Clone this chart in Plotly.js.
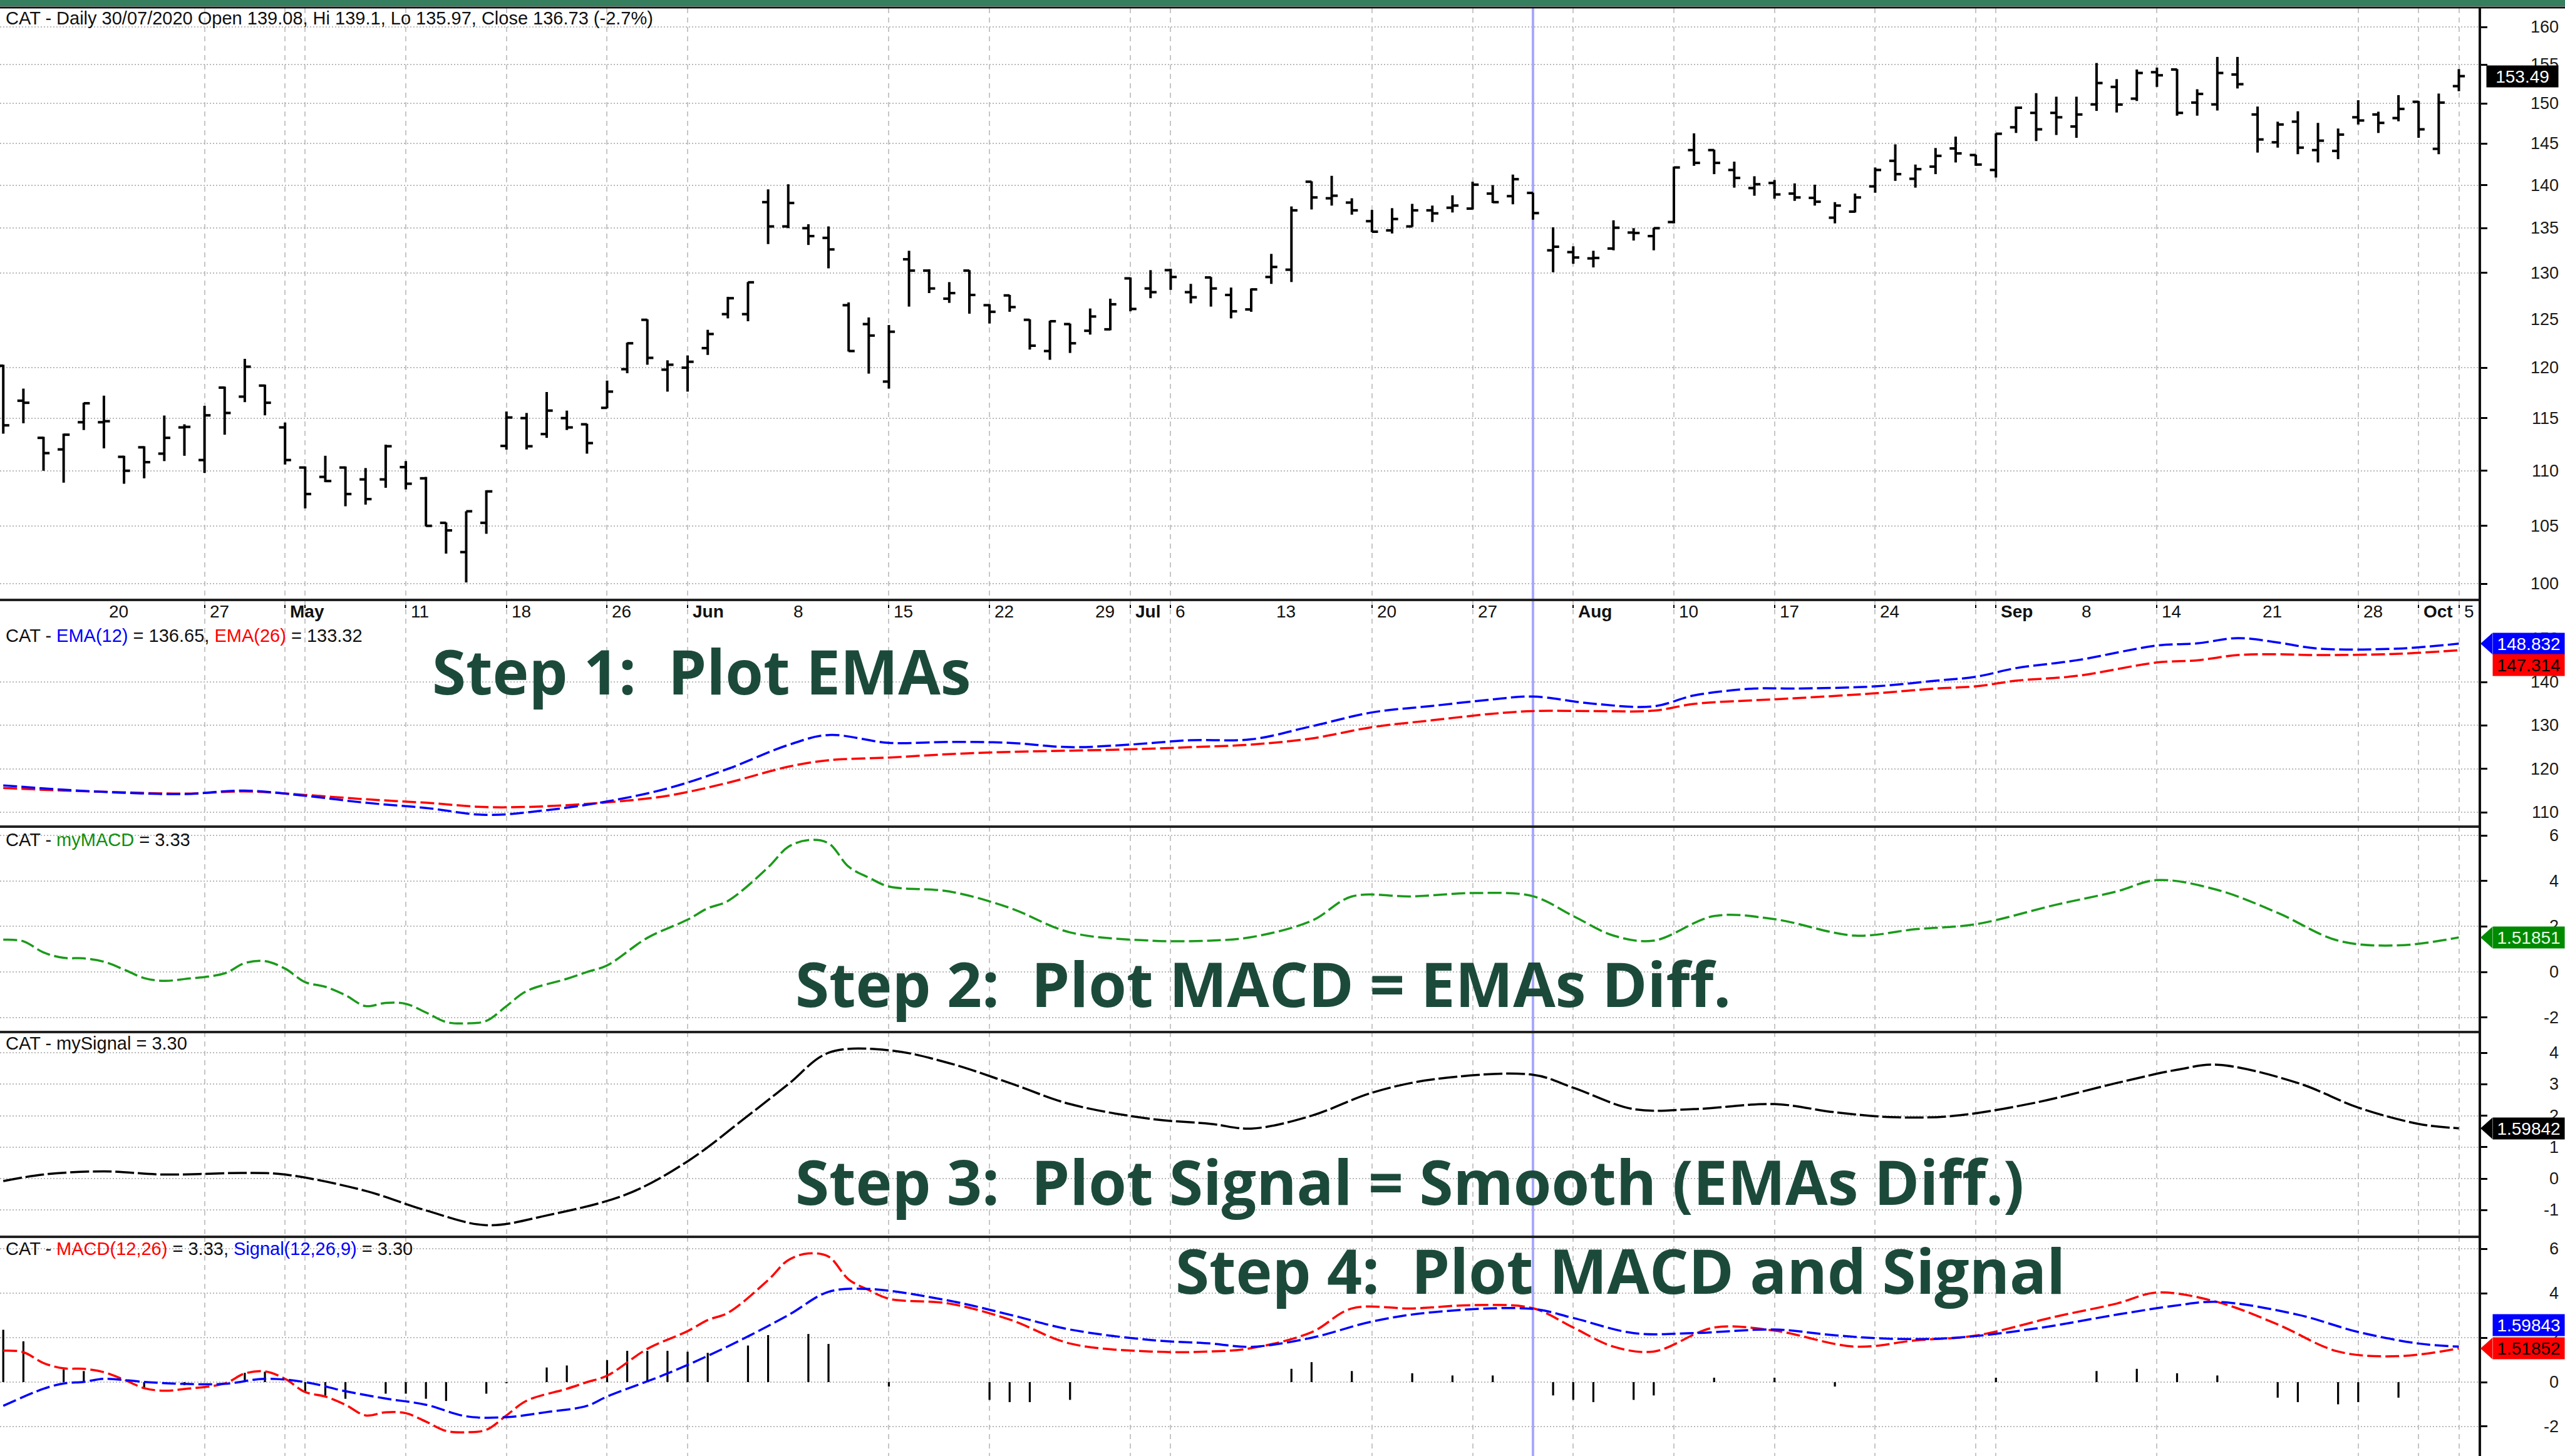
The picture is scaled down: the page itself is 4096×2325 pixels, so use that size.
<!DOCTYPE html>
<html><head><meta charset="utf-8">
<script src="https://cdn.plot.ly/plotly-3.0.1.min.js"></script>
<style>html,body{margin:0;padding:0;background:#fff;}#chart{width:4096px;height:2325px;}</style>
</head><body><div id="chart"></div>
<script>
// ---------------- DATA ----------------
const openP  = [120.2,116.7,113.1,112.0,114.6,114.6,111.3,112.2,111.6,114.1,111.0,118.0,117.1,118.2,114.1,110.3,109.43,110.3,109.2,109.2,110.34,109.3,105.27,102.7,105.27,112.33,115.0,113.46,115.0,114.4,116.0,119.85,124.95,119.8,120.0,122.0,125.55,125.55,138.0,135.2,135.0,133.9,126.5,124.5,118.6,131.5,130.25,127.2,130.25,126.5,127.55,124.95,121.7,124.5,123.8,123.95,129.4,128.3,130.3,127.9,129.5,127.6,126.05,129.55,130.35,140.4,138.45,137.95,135.8,134.75,135.2,137.05,137.35,137.25,139.0,138.7,139.08,132.5,132.3,131.6,132.7,134.5,134.1,135.7,144.2,144.2,141.8,139.65,140.25,139.0,138.5,136.2,136.9,139.85,142.9,140.75,142.2,144.4,143.6,141.8,147.0,148.8,148.8,147.1,149.87,152.1,150.6,154.0,154.35,150.1,149.87,153.7,148.6,145.15,147.7,144.2,144.1,148.25,148.6,148.15,150.2,144.35,152.2];
const highP  = [120.3,117.9,113.2,113.5,116.5,117.2,111.4,112.3,115.25,114.4,116.2,118.1,120.9,118.3,114.57,110.4,111.4,110.4,110.25,112.45,110.9,109.43,105.3,106.3,108.2,115.64,115.5,117.56,115.73,114.45,118.7,122.56,125.0,120.75,121.25,123.9,127.4,129.0,139.5,140.1,135.45,135.2,126.8,125.2,124.4,132.45,130.4,128.99,130.3,126.6,127.6,125.0,124.85,124.55,126.15,127.2,129.5,130.3,130.45,128.8,129.55,128.4,128.3,132.1,137.5,140.45,141.1,138.45,137.1,137.3,137.8,137.6,138.8,140.4,140.0,141.25,139.1,135.1,132.95,132.45,135.9,135.0,135.05,142.2,146.25,144.25,142.8,141.05,140.6,140.2,140.05,138.0,139.0,142.1,144.9,142.45,144.45,145.85,143.65,146.25,149.6,151.3,150.85,150.85,155.2,153.1,154.35,154.6,154.4,151.8,156.0,156.0,149.6,147.7,149.0,147.55,146.85,150.4,148.95,151.05,150.3,151.25,154.4];
const lowP   = [113.5,114.5,110.0,108.9,113.85,112.1,108.8,109.3,110.9,111.4,109.8,113.4,116.56,115.27,110.58,106.56,108.95,106.75,106.9,108.43,108.28,104.95,102.57,100.1,104.3,111.98,112.0,113.1,113.85,111.6,115.95,119.44,120.3,117.6,117.6,121.3,125.1,124.8,133.2,135.0,133.1,130.5,121.65,119.4,117.9,126.35,127.8,126.75,125.6,124.56,125.8,121.85,120.8,121.5,123.4,123.85,125.85,127.25,128.15,126.7,126.35,125.1,125.8,128.8,129.0,137.15,137.6,136.55,134.55,134.4,135.15,135.7,136.8,137.15,137.9,137.75,135.97,130.07,131.0,130.6,132.5,133.6,132.5,135.55,142.3,141.3,139.7,138.75,138.4,138.15,137.6,135.55,136.8,139.1,140.5,139.7,141.3,142.7,142.3,140.9,146.3,145.3,146.05,145.7,149.05,148.85,150.3,152.1,148.45,148.45,149.1,151.9,143.9,144.5,143.7,142.7,143.1,147.35,146.3,147.75,145.7,143.7,151.55];
const closeP = [114.3,116.5,111.65,113.4,116.45,114.7,110.0,110.8,113.1,114.15,115.27,115.5,120.1,116.5,111.0,107.86,109.05,107.86,107.4,112.3,108.8,105.0,104.6,106.3,108.1,115.06,112.3,115.73,114.1,112.6,117.6,122.5,121.0,120.3,120.6,123.46,127.25,128.97,135.2,137.9,134.1,132.6,121.7,123.3,123.7,130.25,128.3,127.8,127.6,125.8,126.3,122.25,124.8,122.5,125.3,126.6,126.1,127.9,129.55,127.35,128.3,125.85,128.2,130.65,137.05,138.55,138.75,137.05,134.6,136.05,137.05,136.7,137.6,140.05,138.0,140.7,136.73,132.9,131.7,131.65,135.05,134.45,135.0,142.1,142.65,142.65,140.85,140.1,138.9,138.55,138.05,137.6,138.55,141.8,141.3,141.9,143.5,143.8,142.45,146.2,149.45,146.75,148.25,148.6,152.6,149.85,153.9,153.6,148.8,151.2,153.9,152.45,145.5,147.35,144.5,145.35,146.1,147.85,147.55,149.3,146.75,150.1,153.49];

// date axis labels (bar index of the labelled day)
const dateTickIdx  = [5,10,14,20,25,30,34,39,44,49,54,56,58,63,68,73,78,83,88,93,99,103,107,112,117,120,122];
const dateTickText = ['20','27','May','11','18','26','Jun','8','15','22','29','Jul','6','13','20','27','Aug','10','17','24','Sep','8','14','21','28','Oct','5'];
const dateGridIdx  = [10,14,15,20,25,30,34,44,49,56,58,68,73,78,83,88,93,98,99,107,117,120,122];
const cursorIdx = 76; // 30/07/2020

// price scale labels
const priceTickLabels = [160,155,150,145,140,135,130,125,120,115,110,105,100];
const priceGridVals   = [160,155,150,145,140,135,130,120,115,110,105,100];

// EMA pane
const emaIdx = [0,3,6,9,12,15,18,21,24,27,30,33,36,39,41,44,47,50,53,56,59,62,65,68,71,74,76,79,82,84,87,89,93,96,98,100,103,107,109,111,113,115,119,122];
const ema12  = [116.2,115.2,114.5,114.2,115.0,113.8,112.2,111.0,109.4,110.5,112.5,115.5,120.0,125.5,127.8,126.0,126.2,126.0,125.0,125.6,126.6,126.8,129.8,133.0,134.5,136.0,136.65,135.0,134.4,136.9,138.5,138.5,139.0,140.3,141.2,143.2,145.0,148.4,148.9,150.1,149.1,147.7,147.7,148.83];
const ema26  = [115.6,115.0,114.6,114.3,114.8,114.0,113.0,112.2,111.2,111.4,112.3,113.8,116.8,120.5,122.0,122.6,123.4,123.9,124.2,124.5,125.0,125.6,127.0,129.6,131.2,132.7,133.32,133.3,133.4,134.95,135.8,136.25,137.4,138.5,139.0,140.3,141.4,144.5,145.0,146.2,146.4,146.2,146.5,147.31];
const emaTickLabels = [150,140,130,120,110];
const emaGridVals   = [140,130,120,110];

// MACD
const macdIdx = [0,1,2,3,4,5,6,7,8,9,11,12,13,14,15,16,17,18,19,20,21,22,23,24,25,26,28,29,30,32,34,35,36,38,39,40,41,42,43,44,47,50,53,57,60,62,65,67,70,73,76,78,80,82,85,88,92,95,98,102,105,107,110,113,116,119,122];
const macdV   = [1.42,1.35,0.86,0.62,0.6,0.45,0.11,-0.27,-0.39,-0.31,-0.06,0.39,0.48,0.15,-0.45,-0.65,-1.02,-1.5,-1.36,-1.4,-1.78,-2.2,-2.26,-2.15,-1.5,-0.84,-0.3,0.0,0.29,1.5,2.3,2.8,3.12,4.6,5.5,5.8,5.66,4.63,4.15,3.76,3.54,2.82,1.74,1.38,1.38,1.53,2.25,3.32,3.32,3.47,3.33,2.46,1.6,1.38,2.46,2.32,1.6,1.88,2.1,2.96,3.54,4.04,3.61,2.6,1.38,1.17,1.52];
const macdTickLabels = [6,4,2,0,-2];

// Signal (own pane)
const sigIdx = [0,2,5,8,12,14,18,21,24,27,31,34,37,39,41,44,47,50,53,57,60,62,65,68,71,76,78,81,84,88,91,94,97,101,105,108,110,114,117,120,122];
const sigV   = [-0.08,0.13,0.23,0.13,0.18,0.13,-0.39,-1.01,-1.48,-1.17,-0.49,0.55,2.0,3.0,4.0,4.08,3.67,3.04,2.37,1.9,1.74,1.59,2.0,2.73,3.15,3.30,2.89,2.21,2.21,2.37,2.11,1.95,2.0,2.42,3.04,3.46,3.62,3.04,2.26,1.74,1.60];
const sigTickLabels = [4,3,2,1,0,-1];

// Signal (bottom pane) and histogram
const sigBotIdx = [0,2,3,4,5,7,9,11,13,15,17,19,21,23,25,27,29,30,33,36,39,41,43,47,50,53,57,60,62,65,68,71,76,78,81,84,88,91,94,97,101,105,108,110,114,117,120,122];
const sigBotV   = [-1.07,-0.3,-0.06,0.01,0.15,0.01,-0.08,-0.08,0.15,0.0,-0.41,-0.74,-1.02,-1.54,-1.58,-1.35,-1.07,-0.65,0.39,1.61,3.02,4.07,4.2,3.67,3.04,2.37,1.9,1.74,1.59,2.0,2.73,3.15,3.30,2.89,2.21,2.21,2.37,2.11,1.95,2.0,2.42,3.04,3.46,3.62,3.04,2.26,1.74,1.60];
const histIdx = [0,1,3,4,7,9,12,13,15,16,17,19,20,21,22,24,25,27,28,30,31,32,33,34,35,37,38,40,41,44,49,50,51,53,64,65,67,70,72,74,77,78,79,81,82,85,88,91,99,104,106,108,110,113,114,116,117,119];
const histV   = [2.36,1.84,0.57,0.5,-0.24,-0.14,0.42,0.47,-0.47,-0.61,-0.75,-0.52,-0.52,-0.75,-0.85,-0.52,-0.05,0.66,0.75,0.99,1.41,1.41,1.41,1.37,1.32,1.65,2.12,2.17,1.72,-0.2,-0.8,-0.9,-0.9,-0.8,0.6,0.9,0.5,0.4,0.3,0.3,-0.6,-0.8,-0.9,-0.8,-0.6,0.2,0.2,-0.2,0.2,0.5,0.6,0.4,0.3,-0.7,-0.9,-1.0,-0.9,-0.7];
const botTickLabels = [6,4,2,0,-2];

// last values shown in the right-hand boxes
const lastPrice = 153.49, lastEma12 = 148.832, lastEma26 = 147.314;
const lastMacd = 1.51851, lastSig = 1.59842, lastSigBot = 1.59843, lastMacdBot = 1.51852;

// ---------------- LAYOUT GEOMETRY ----------------
const W = 4096, H = 2325, PLOT_R = 3958;
const paneTop = [13, 958, 1320, 1648, 1975];
const paneBot = [958, 1320, 1648, 1975, 2325];
const dom = k => [1 - paneBot[k]/H, 1 - paneTop[k]/H];
const X_RANGE = [-0.162, 122.98];
const FONT = 'Arial, "Liberation Sans", sans-serif';
const TICK = 0.3; // half-width of open/close ticks, in bar units

function xAx(k){
  return {domain:[0, PLOT_R/W], range:X_RANGE, anchor: k===0?'y':'y'+(k+1), tickmode:'array', tickvals:dateGridIdx,
    showticklabels:false, ticks: k===0?'outside':'', ticklen:12, tickwidth:2, tickcolor:'#000',
    showgrid:true, gridcolor:'#c6c6c6', gridwidth:2, griddash:'8px,7px', zeroline:false, showline:false, fixedrange:true};
}
function yAx(k, range, type, grid){
  return {domain:dom(k), range:range, type:type, side:'right', anchor: k===0?'x':'x'+(k+1), tickmode:'array', tickvals:grid,
    showticklabels:false, ticks:'outside', ticklen:10, tickwidth:3, tickcolor:'#000',
    showgrid:true, gridcolor:'#b9b9b9', gridwidth:2, griddash:'2px,3px', zeroline:false,
    showline:true, linecolor:'#111', linewidth:4, fixedrange:true};
}

const layout = {
  width:W, height:H, margin:{l:0,r:0,t:0,b:0}, paper_bgcolor:'#fff', plot_bgcolor:'rgba(0,0,0,0)',
  showlegend:false, dragmode:false, hovermode:false,
  xaxis:xAx(0), xaxis2:xAx(1), xaxis3:xAx(2), xaxis4:xAx(3), xaxis5:xAx(4),
  yaxis: yAx(0, [1.99403, 2.21101], 'log', priceGridVals),
  yaxis2:yAx(1, [106.7, 158.9], 'linear', emaGridVals),
  yaxis3:yAx(2, [-2.64, 6.39], 'linear', macdTickLabels),
  yaxis4:yAx(3, [-1.85, 4.66], 'linear', sigTickLabels),
  yaxis5:yAx(4, [-3.33, 6.55], 'linear', botTickLabels),
  shapes:[], annotations:[]
};

// frame shapes
layout.shapes.push({type:'rect', xref:'paper', yref:'paper', x0:0, x1:1, y0:1-10/H, y1:1, fillcolor:'#367f5e', line:{width:0}});
layout.shapes.push({type:'line', xref:'paper', yref:'paper', x0:0, x1:1, y0:1-12/H, y1:1-12/H, line:{color:'#111', width:3}});
[958,1320,1648,1975].forEach(y => layout.shapes.push({type:'line', xref:'paper', yref:'paper', x0:0, x1:PLOT_R/W, y0:1-y/H, y1:1-y/H, line:{color:'#222', width:4}}));
layout.shapes.push({type:'line', xref:'x', yref:'paper', x0:cursorIdx, x1:cursorIdx, y0:0, y1:1-13/H, line:{color:'#a8a8ff', width:4}, layer:'below'});

// pane captions
const cap = (y, html) => layout.annotations.push({xref:'paper', yref:'paper', x:7/W, y:1-y/H, xanchor:'left', yanchor:'middle', showarrow:false, text:html, font:{family:FONT, size:29, color:'#111'}});
cap(29, 'CAT - Daily 30/07/2020 Open 139.08, Hi 139.1, Lo 135.97, Close 136.73 (-2.7%)');
cap(1015, 'CAT - <span style="color:#0000ff">EMA(12)</span> = 136.65, <span style="color:#ff0000">EMA(26)</span> = 133.32');
cap(1341, 'CAT - <span style="color:#109010">myMACD</span> = 3.33');
cap(1666, 'CAT - mySignal = 3.30');
cap(1994, 'CAT - <span style="color:#ff0000">MACD(12,26)</span> = 3.33, <span style="color:#0000ff">Signal(12,26,9)</span> = 3.30');

// date labels
dateTickIdx.forEach((ix, j) => {
  const t = dateTickText[j];
  const bold = /[A-Za-z]/.test(t);
  layout.annotations.push({xref:'x', yref:'paper', x:ix, y:1-977/H, xanchor:'left', yanchor:'middle', xshift:6, showarrow:false,
    text: bold ? '<b>'+t+'</b>' : t, font:{family:FONT, size:28, color:'#111'}});
});

// y tick labels (right aligned)
const yLab = (axis, vals, log) => vals.forEach(v => layout.annotations.push({xref:'paper', yref:axis, x:4088/W, y: log?Math.log10(v):v,
  xanchor:'right', yanchor:'middle', showarrow:false, text:String(v), font:{family:FONT, size:27, color:'#1a1a1a'}}));
yLab('y', priceTickLabels, true);
yLab('y2', emaTickLabels, false);
yLab('y3', macdTickLabels, false);
yLab('y4', sigTickLabels, false);
yLab('y5', botTickLabels, false);

// value boxes
function valBox(axis, yv, txt, bg, fg, arrow, yshift, right){
  layout.annotations.push({xref:'paper', yref:axis, x:(right||W)/W, y:yv, xanchor:'right', yanchor:'middle', yshift:yshift||0,
    showarrow:false, text:txt, bgcolor:bg, font:{family:FONT, size:28, color:fg}, width:112, height:32, borderpad:1, align:'center'});
  if(arrow){
    layout.shapes.push({type:'path', xref:'paper', yref:axis, xsizemode:'pixel', ysizemode:'pixel', xanchor:3961/W, yanchor:yv,
      path:'M0,0 L19,17 L19,-17 Z', fillcolor:bg, line:{width:0}});
  }
}
valBox('y', Math.log10(lastPrice), lastPrice.toFixed(2), '#000', '#fff', true, 0, 4086);
valBox('y2', lastEma12, lastEma12.toFixed(3), '#0000ff', '#fff', true, 0);
valBox('y2', lastEma26, lastEma26.toFixed(3), '#ff0000', '#000', false, -24);
valBox('y3', lastMacd, lastMacd.toFixed(5), '#008a00', '#e8ffe0', true, 0);
valBox('y4', lastSig, lastSig.toFixed(5), '#000', '#fff', true, 0);
valBox('y5', lastSigBot, lastSigBot.toFixed(5), '#0000ff', '#fff', false, 34);
valBox('y5', lastMacdBot, lastMacdBot.toFixed(5), '#ff0000', '#000', true, 0);

// step captions
const step = (x, y, t) => layout.annotations.push({xref:'paper', yref:'paper', x:x/W, y:1-y/H, xanchor:'left', yanchor:'middle', showarrow:false,
  text:'<b>'+t+'</b>', font:{family:'"Open Sans", "Noto Sans", sans-serif', size:98, color:'#1c4a3a'}});
step(688, 1071, 'Step 1: \u00a0Plot EMAs');
step(1268, 1570, 'Step 2: \u00a0Plot MACD = EMAs Diff.');
step(1268, 1886, 'Step 3: \u00a0Plot Signal = Smooth (EMAs Diff.)');
step(1875, 2028, 'Step 4: \u00a0Plot MACD and Signal');

// ---------------- TRACES ----------------
// OHLC bars built from the price arrays: high-low stem, open tick left, close tick right
const ohlcX = [], ohlcY = [];
openP.forEach((o, i) => {
  ohlcX.push(i, i, null, i - TICK, i, null, i, i + TICK, null);
  ohlcY.push(lowP[i], highP[i], null, o, o, null, closeP[i], closeP[i], null);
});

const DASH = '22px,7px';
const traces = [
  {type:'scatter', mode:'lines', x:ohlcX, y:ohlcY, xaxis:'x', yaxis:'y', connectgaps:false, line:{color:'#000', width:4}},
  {type:'scatter', mode:'lines', x:emaIdx, y:ema26, xaxis:'x2', yaxis:'y2', line:{color:'#ff0000', width:3.5, dash:DASH, shape:'spline'}},
  {type:'scatter', mode:'lines', x:emaIdx, y:ema12, xaxis:'x2', yaxis:'y2', line:{color:'#0000ff', width:3.5, dash:DASH, shape:'spline'}},
  {type:'scatter', mode:'lines', x:macdIdx, y:macdV, xaxis:'x3', yaxis:'y3', line:{color:'#1a9a1a', width:3.5, dash:DASH, shape:'spline'}},
  {type:'scatter', mode:'lines', x:sigIdx, y:sigV, xaxis:'x4', yaxis:'y4', line:{color:'#000', width:3.5, dash:'30px,6px', shape:'spline'}},
  {type:'bar', x:histIdx, y:histV, xaxis:'x5', yaxis:'y5', width:0.1, marker:{color:'#000', line:{width:0}}},
  {type:'scatter', mode:'lines', x:macdIdx, y:macdV, xaxis:'x5', yaxis:'y5', line:{color:'#ff0000', width:3.5, dash:DASH, shape:'spline'}},
  {type:'scatter', mode:'lines', x:sigBotIdx, y:sigBotV, xaxis:'x5', yaxis:'y5', line:{color:'#0000ff', width:3.5, dash:DASH, shape:'spline'}}
];

Plotly.newPlot('chart', traces, layout, {staticPlot:true, displayModeBar:false});
</script></body></html>
